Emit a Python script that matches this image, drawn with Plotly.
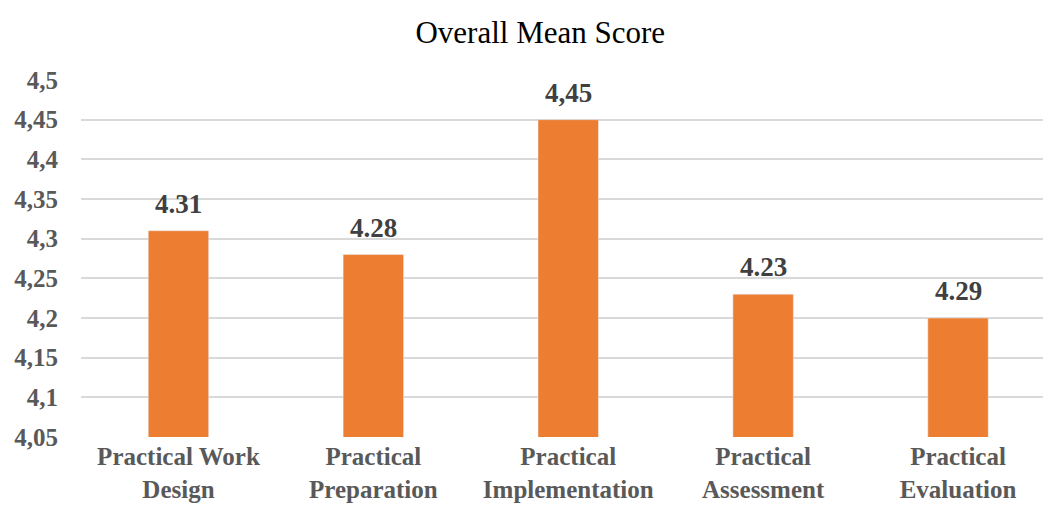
import plotly.graph_objects as go

categories = ["Practical Work<br>Design", "Practical<br>Preparation", "Practical<br>Implementation",
              "Practical<br>Assessment", "Practical<br>Evaluation"]
values = [4.31, 4.28, 4.45, 4.23, 4.20]
labels = ["4.31", "4.28", "4,45", "4.23", "4.29"]

font_family = "Liberation Serif, Times New Roman, serif"

fig = go.Figure(go.Bar(
    x=categories, y=values,
    marker=dict(color="#ED7D31"), width=0.31,
))

for c, v, t in zip(categories, values, labels):
    fig.add_annotation(x=c, y=v, text=f"<b>{t}</b>", showarrow=False,
                       yanchor="bottom", yshift=10,
                       font=dict(family=font_family, size=27, color="#404040"))

fig.update_layout(
    width=1043, height=508, separators=",.",
    margin=dict(l=81, r=0, t=80, b=71),
    paper_bgcolor="white", plot_bgcolor="white",
    title=dict(text="Overall Mean Score", x=0.518, xanchor="center", y=0.937, yanchor="middle",
               font=dict(family=font_family, size=31, color="#000000")),
    font=dict(family=font_family),
    showlegend=False,
    xaxis=dict(range=[-0.5, 4.436], showgrid=False, showline=False, ticks="",
               tickfont=dict(family=font_family, size=25, color="#595959"),
               ticklabelstandoff=2, automargin=False),
    yaxis=dict(range=[4.05, 4.5], dtick=0.05, tick0=4.05, showgrid=True, gridcolor="#d9d9d9",
               gridwidth=1.5, zeroline=False, showline=False, ticks="",
               tickfont=dict(family=font_family, size=25, color="#595959"),
               ticklabelstandoff=22, automargin=False),
)
fig.for_each_xaxis(lambda a: a.update(tickprefix="<b>", ticksuffix="</b>"))
fig.for_each_yaxis(lambda a: a.update(tickprefix="<b>", ticksuffix="</b>"))

fig.write_html("out.html")
